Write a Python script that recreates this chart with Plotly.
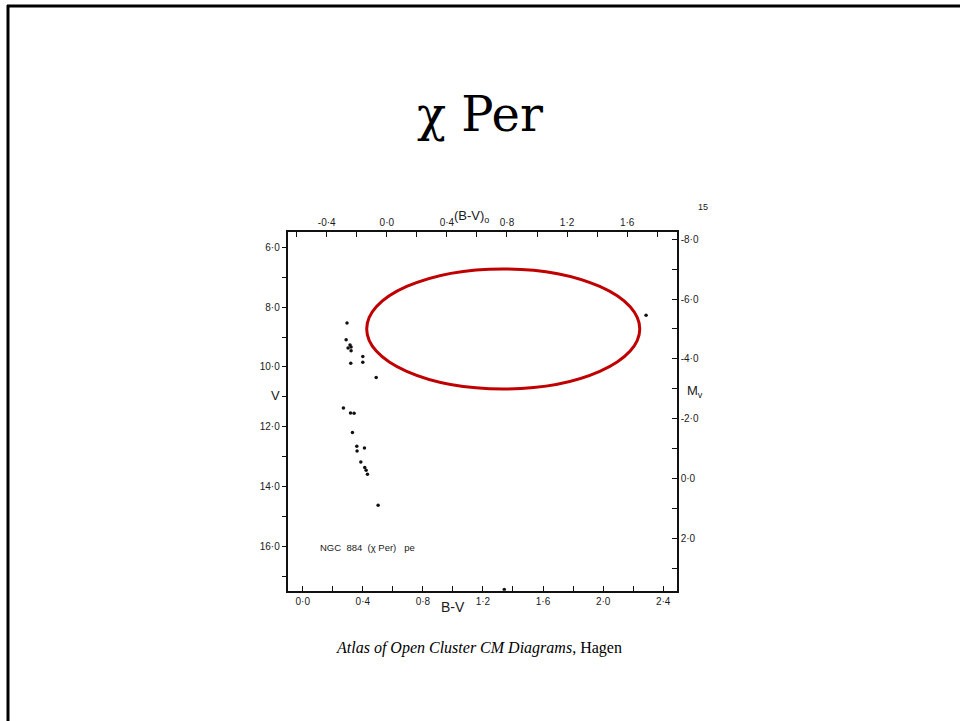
import plotly.graph_objects as go

# Colour-magnitude data for NGC 884 (chi Persei)
bv = [0.295, 0.289, 0.315, 0.302, 0.322, 0.322, 0.400, 0.400, 0.320, 0.489,
      0.271, 0.318, 0.342, 0.331, 0.360, 0.362, 0.411, 0.387, 0.413, 0.422,
      0.431, 0.502, 2.286, 1.342]
vmag = [8.53, 9.09, 9.27, 9.37, 9.33, 9.46, 9.65, 9.84, 9.88, 10.35,
        11.37, 11.54, 11.55, 12.19, 12.65, 12.81, 12.71, 13.18, 13.36, 13.45,
        13.59, 14.62, 8.27, 17.44]

# Reddening and apparent distance modulus linking the paired axes
EBV = 0.56
DM = 13.73

# Axis ranges
BV_RANGE = [-0.1, 2.49]
V_RANGE = [17.48, 5.48]

# Bottom axis (B-V): labelled and minor ticks
bv_ticks = [0.0, 0.4, 0.8, 1.2, 1.6, 2.0, 2.4]
bv_text = ["0·0", "0·4", "0·8", "1·2", "1·6", "2·0", "2·4"]
bv_minor = [0.2, 0.6, 1.0, 1.4, 1.8, 2.2]
# Top axis (B-V)0
bv0_ticks = [-0.4, 0.0, 0.4, 0.8, 1.2, 1.6]
bv0_text = ["-0·4", "0·0", "0·4", "0·8", "1·2", "1·6"]
bv0_minor = [-0.6, -0.2, 0.2, 0.6, 1.0, 1.4, 1.8]
# Left axis V
v_ticks = [6, 8, 10, 12, 14, 16]
v_text = ["6·0", "8·0", "10·0", "12·0", "14·0", "16·0"]
v_minor = [7, 9, 11, 13, 15, 17]
# Right axis Mv
mv_ticks = [-8, -6, -4, -2, 0, 2]
mv_text = ["-8·0", "-6·0", "-4·0", "-2·0", "0·0", "2·0"]
mv_minor = [-7, -5, -3, -1, 1, 3]

# Highlight ellipse (centre and semi-axes in B-V / V units)
ELL_BV, ELL_V = 1.335, 8.73
ELL_A, ELL_B = 0.909, 2.007

W, H = 960, 721


def px(x):
    return x / W


def py(y):
    return 1 - y / H


dom_x = [px(287.7), px(676.7)]
dom_y = [py(590.7), py(231.7)]

ink = "#1a1a1a"
tick_font = dict(family="Liberation Sans", size=10, color=ink)

fig = go.Figure()
fig.add_trace(go.Scatter(
    x=bv, y=vmag, mode="markers",
    marker=dict(size=3.5, color="#111"),
    hoverinfo="skip", showlegend=False, xaxis="x", yaxis="y"))
# empty trace so the paired (B-V)0 / Mv axes are drawn
fig.add_trace(go.Scatter(
    x=[None], y=[None], mode="markers", hoverinfo="skip",
    showlegend=False, xaxis="x2", yaxis="y2"))


def axis(ticks, text, minor, side_ticks, length, **kw):
    return dict(showgrid=False, zeroline=False, showline=True,
                linecolor="#111", linewidth=2, tickcolor="#111",
                tickwidth=1, tickfont=tick_font, tickmode="array",
                tickvals=ticks, ticktext=text, ticks=side_ticks, ticklen=length,
                minor=dict(tickmode="array", tickvals=minor, ticks=side_ticks,
                           ticklen=length, tickcolor="#111", tickwidth=1,
                           showgrid=False),
                **kw)


fig.update_layout(
    width=W, height=H, margin=dict(l=0, r=0, t=0, b=0),
    paper_bgcolor="white", plot_bgcolor="white",
    xaxis=axis(bv_ticks, bv_text, bv_minor, "inside", 5,
               domain=dom_x, range=BV_RANGE, anchor="y", side="bottom"),
    xaxis2=axis(bv0_ticks, bv0_text, bv0_minor, "inside", 5,
                overlaying="x", anchor="y", side="top",
                range=[BV_RANGE[0] - EBV, BV_RANGE[1] - EBV]),
    yaxis=axis(v_ticks, v_text, v_minor, "outside", 4,
               domain=dom_y, range=V_RANGE, anchor="x", side="left"),
    yaxis2=axis(mv_ticks, mv_text, mv_minor, "inside", 5,
                overlaying="y", anchor="x", side="right",
                range=[V_RANGE[0] - DM, V_RANGE[1] - DM]),
)

shapes = [
    # slide frame
    dict(type="line", xref="paper", yref="paper", x0=px(7), x1=1.0,
         y0=py(6), y1=py(6), line=dict(color="black", width=3)),
    dict(type="line", xref="paper", yref="paper", x0=px(8), x1=px(8),
         y0=py(5), y1=0.0, line=dict(color="black", width=3)),
    # highlight ellipse
    dict(type="circle", xref="x", yref="y",
         x0=ELL_BV - ELL_A, x1=ELL_BV + ELL_A,
         y0=ELL_V - ELL_B, y1=ELL_V + ELL_B,
         line=dict(color="#C00000", width=3)),
]
fig.update_layout(shapes=shapes)

ann = [
    dict(text="χ Per", x=px(480), y=py(114), xanchor="center", yanchor="middle",
         font=dict(family="DejaVu Serif", size=48, color="black")),
    dict(text="<i>Atlas of Open Cluster CM Diagrams</i>, Hagen",
         x=px(479), y=py(648), xanchor="center", yanchor="middle",
         font=dict(family="Liberation Serif", size=16, color="black")),
    dict(text="(B-V)<sub>o</sub>", x=px(471), y=py(217), xanchor="center",
         yanchor="middle", font=dict(family="Liberation Sans", size=13, color=ink)),
    dict(text="B-V", x=px(453), y=py(607), xanchor="center", yanchor="middle",
         font=dict(family="Liberation Sans", size=14, color=ink)),
    dict(text="V", x=px(275), y=py(395), xanchor="center", yanchor="middle",
         font=dict(family="Liberation Sans", size=13, color=ink)),
    dict(text="M<sub>v</sub>", x=px(685), y=py(391), xanchor="left", yanchor="middle",
         font=dict(family="Liberation Sans", size=13, color=ink)),
    dict(text="15", x=px(703), y=py(207), xanchor="center", yanchor="middle",
         font=dict(family="Liberation Sans", size=9, color=ink)),
    dict(text="NGC  884  (χ Per)   pe", x=px(318), y=py(547), xanchor="left",
         yanchor="middle", font=dict(family="Liberation Sans", size=9.5, color=ink)),
]
for a in ann:
    a.update(xref="paper", yref="paper", showarrow=False)
fig.update_layout(annotations=ann)

fig.write_html("out.html")
